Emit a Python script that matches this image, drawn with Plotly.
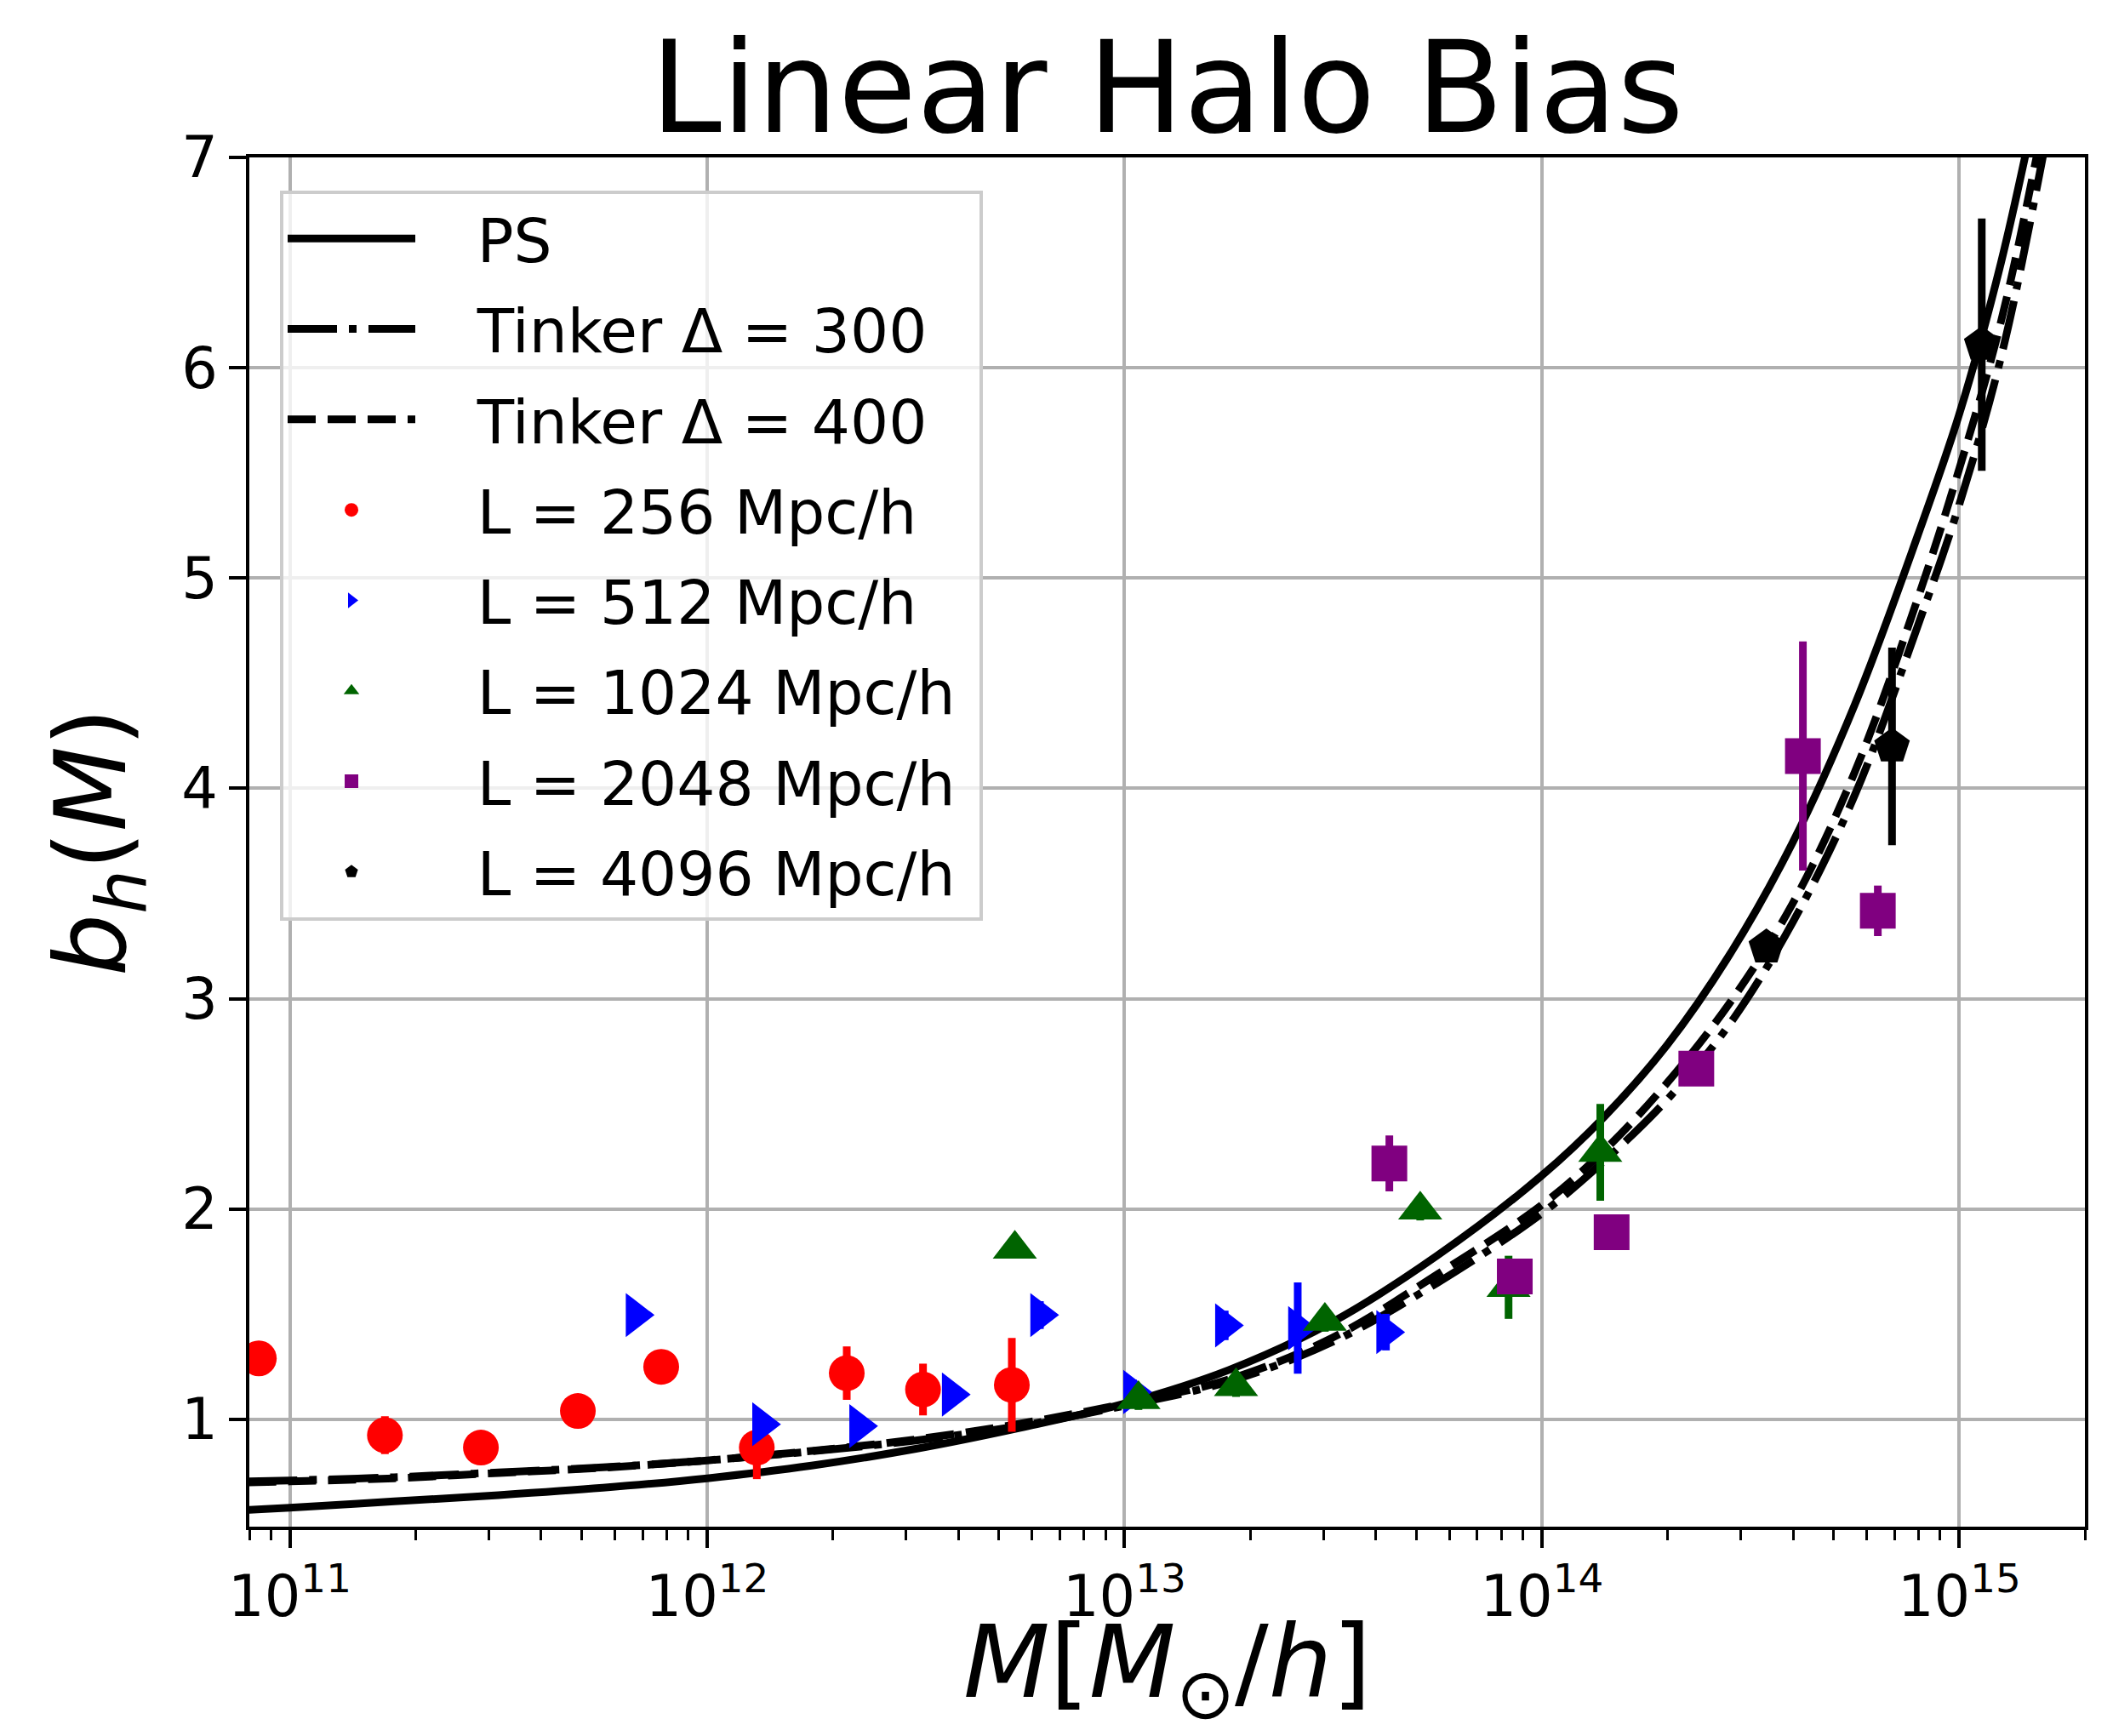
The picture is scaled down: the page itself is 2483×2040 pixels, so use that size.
import numpy as np
import plotly.graph_objects as go

# ---------------- data ----------------
curve_logM = [10.9, 11.0, 11.25, 11.5, 11.75, 12.0, 12.25, 12.5, 12.75, 13.0, 13.25,
              13.5, 13.75, 14.0, 14.15, 14.3, 14.45, 14.6, 14.75, 14.9, 15.0, 15.1, 15.2, 15.3]
b_PS = [0.57, 0.58, 0.61, 0.64, 0.675, 0.72, 0.78, 0.86, 0.96, 1.075, 1.235,
        1.465, 1.78, 2.16, 2.44, 2.78, 3.21, 3.74, 4.40, 5.20, 5.78, 6.50, 7.4, 8.4]
b_T400 = [0.70, 0.705, 0.72, 0.745, 0.77, 0.805, 0.85, 0.905, 0.98, 1.075, 1.19,
          1.39, 1.69, 2.02, 2.28, 2.60, 2.98, 3.45, 4.08, 4.90, 5.52, 6.22, 7.15, 8.2]
b_T300 = [0.705, 0.71, 0.725, 0.748, 0.772, 0.805, 0.848, 0.90, 0.97, 1.065, 1.18,
          1.37, 1.65, 1.98, 2.23, 2.52, 2.88, 3.36, 3.97, 4.77, 5.35, 6.05, 7.0, 8.1]

M_256 = [8.43e10, 1.69e11, 2.87e11, 4.90e11, 7.76e11, 1.315e12, 2.16e12, 3.29e12, 5.37e12]
b_256 = [1.29, 0.925, 0.866, 1.04, 1.25, 0.866, 1.22, 1.142, 1.164]
e_256 = [0.04, 0.09, 0.05, 0.05, 0.05, 0.15, 0.127, 0.123, 0.223]

M_512 = [6.73e11, 1.352e12, 2.31e12, 3.85e12, 6.27e12, 1.047e13, 1.738e13, 2.60e13, 4.23e13]
b_512 = [1.496, 0.977, 0.968, 1.118, 1.496, 1.13, 1.447, 1.434, 1.415]
e_512 = [0.04, 0.04, 0.05, 0.04, 0.066, 0.06, 0.07, 0.217, 0.087]

M_1024 = [5.46e12, 1.08e13, 1.85e13, 3.02e13, 5.11e13, 8.32e13, 1.38e14]
b_1024 = [1.81, 1.095, 1.157, 1.467, 1.996, 1.628, 2.27]
e_1024 = [0.04, 0.05, 0.05, 0.05, 0.05, 0.15, 0.23]

M_2048 = [4.31e13, 8.61e13, 1.469e14, 2.344e14, 4.22e14, 6.38e14]
b_2048 = [2.217, 1.68, 1.89, 2.668, 4.154, 3.418]
e_2048 = [0.133, 0.04, 0.04, 0.04, 0.545, 0.12]

M_4096 = [3.45e14, 6.90e14, 1.132e15]
b_4096 = [3.245, 4.20, 6.11]
e_4096 = [0.04, 0.47, 0.60]

x_tickvals = [1e11, 1e12, 1e13, 1e14, 1e15]
x_ticktext = ["10<sup>11</sup>", "10<sup>12</sup>", "10<sup>13</sup>", "10<sup>14</sup>", "10<sup>15</sup>"]
y_tickvals = [1, 2, 3, 4, 5, 6, 7]
x_minor = [m * 10.0 ** e for e in range(10, 16) for m in range(2, 10)]

# ---------------- figure ----------------
FONT = "DejaVu Sans"
NB = "\u00a0"
curve_M = [10.0 ** v for v in curve_logM]

fig = go.Figure()

line_specs = [
    ("PS", b_PS, "solid"),
    ("Tinker Δ = 300", b_T300, "58px,14px,9px,14px"),
    ("Tinker Δ = 400", b_T400, "33px,14px"),
]
for i, (name, yy, dash) in enumerate(line_specs):
    fig.add_trace(go.Scatter(
        x=curve_M, y=yy, mode="lines", name=NB * 3 + name + NB, legendgroup=f"g{i}",
        line=dict(color="black", width=9, dash=dash, shape="spline", smoothing=1.0),
    ))

pt_specs = [
    ("L = 256 Mpc/h", M_256, b_256, e_256, "#ff0000", "circle", 42),
    ("L = 512 Mpc/h", M_512, b_512, e_512, "#0000ff", "triangle-right", 45),
    ("L = 1024 Mpc/h", M_1024, b_1024, e_1024, "#006400", "triangle-up", 45),
    ("L = 2048 Mpc/h", M_2048, b_2048, e_2048, "#800080", "square", 42),
    ("L = 4096 Mpc/h", M_4096, b_4096, e_4096, "#000000", "pentagon", 44),
]
for j, (name, xx, yy, ee, col, sym, sz) in enumerate(pt_specs):
    fig.add_trace(go.Scatter(
        x=xx, y=yy, mode="markers", name=NB * 3 + name + NB, legendgroup=f"p{j}",
        marker=dict(color=col, symbol=sym, size=sz, line=dict(width=0)),
        error_y=dict(type="data", array=ee, visible=True, color=col, thickness=9, width=0),
    ))

fig.update_layout(
    width=2483, height=2040,
    margin=dict(l=293, r=33, t=185, b=246),
    paper_bgcolor="white", plot_bgcolor="white",
    font=dict(family=FONT, color="black"),
    title=dict(text="Linear Halo Bias", font=dict(family=FONT, size=150, color="black"),
               x=0.5, xref="paper", xanchor="center", y=0.950, yref="container", yanchor="middle"),
    showlegend=True,
    legend=dict(x=0.0167, y=0.976, xanchor="left", yanchor="top",
                bgcolor="rgba(255,255,255,0.8)", bordercolor="#cccccc", borderwidth=4,
                font=dict(family=FONT, size=71, color="black"),
                itemwidth=150, traceorder="grouped", tracegroupgap=11),
    annotations=[dict(
        text="<i>M</i>[<i>M</i><sub>⊙</sub>/<i>h</i>]", xref="paper", yref="paper",
        x=0.5, y=-246 / 1609, xanchor="center", yanchor="bottom", showarrow=False,
        font=dict(family=FONT, size=118, color="black"),
    )],
)

fig.update_xaxes(
    type="log", range=[np.log10(8e10), np.log10(2e15)],
    tickmode="array", tickvals=x_tickvals, ticktext=x_ticktext,
    ticks="outside", ticklen=21, tickwidth=3.5, tickcolor="black",
    showline=True, linecolor="black", linewidth=3.5, mirror=True,
    showgrid=True, gridcolor="#b0b0b0", gridwidth=3.5, zeroline=False,
    tickfont=dict(family=FONT, size=67, color="black"),
    minor=dict(tickmode="array", tickvals=x_minor, ticks="outside", ticklen=12,
               tickwidth=2.5, tickcolor="black", showgrid=False),
)
fig.update_yaxes(
    range=[0.49, 7], tickmode="array", tickvals=y_tickvals,
    ticks="outside", ticklen=20, tickwidth=3.5, tickcolor="black",
    showline=True, linecolor="black", linewidth=3.5, mirror=True,
    showgrid=True, gridcolor="#b0b0b0", gridwidth=3.5, zeroline=False,
    tickfont=dict(family=FONT, size=67, color="black"),
    title=dict(text="<i>b</i><sub><i>h</i></sub>(<i>M</i>)",
               font=dict(family=FONT, size=116, color="black"), standoff=28),
)

fig.write_html("out.html", config={"displayModeBar": False})
